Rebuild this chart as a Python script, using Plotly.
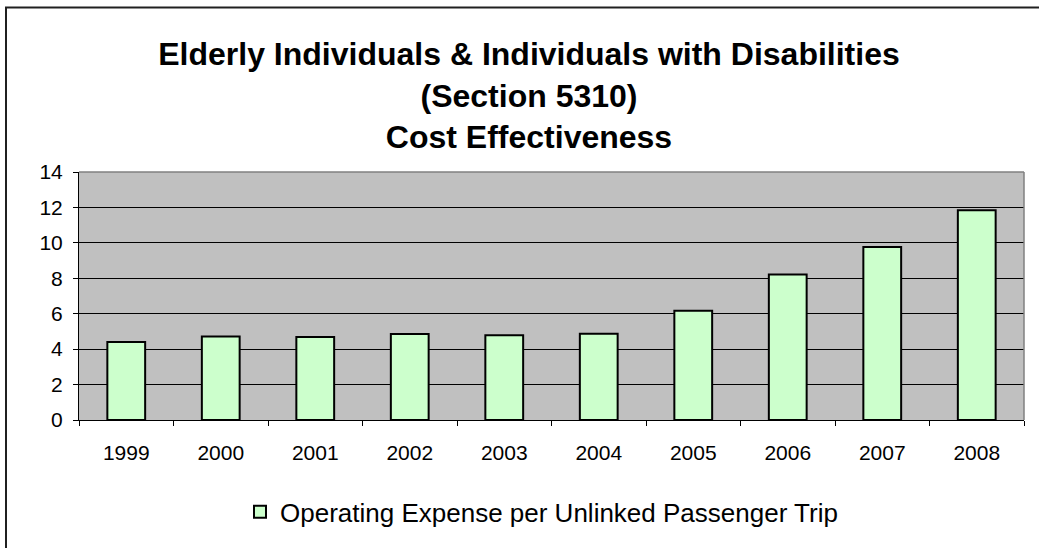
import plotly.graph_objects as go

years = ["1999", "2000", "2001", "2002", "2003", "2004", "2005", "2006", "2007", "2008"]
cost = [4.41, 4.72, 4.68, 4.85, 4.78, 4.87, 6.17, 8.22, 9.76, 11.84]
series_name = "Operating Expense per Unlinked Passenger Trip"
title_text = "Elderly Individuals & Individuals with Disabilities<br>(Section 5310)<br>Cost Effectiveness"

W, H = 1039, 548
L, R, T, B = 79, 15, 172, 125
pw, ph = W - L - R, H - T - B
FONT = "Arial, Liberation Sans, sans-serif"

fig = go.Figure()
fig.add_trace(go.Bar(
    x=years, y=cost, name=series_name,
    marker=dict(color="#CCFFCC", line=dict(color="black", width=2)),
    showlegend=True,
))

fig.update_layout(
    width=W, height=H,
    margin=dict(l=L, r=R, t=T, b=B),
    paper_bgcolor="white",
    plot_bgcolor="#C0C0C0",
    bargap=0.6,
    font=dict(family=FONT, size=21, color="black"),
    title=dict(text="<b>" + title_text + "</b>", xref="container", yref="container",
               x=529 / W, xanchor="center", y=1 - 65 / H, yanchor="middle",
               font=dict(size=32, family=FONT, color="black")),
    showlegend=True,
    legend=dict(orientation="h", x=(240 - L) / pw, xanchor="left",
                y=(H - B - 516) / ph, yanchor="middle",
                font=dict(size=26, family=FONT), bgcolor="rgba(0,0,0,0)"),
    xaxis=dict(showline=True, linecolor="black", linewidth=1,
               ticks="outside", tickson="boundaries", ticklen=5, tickcolor="black",
               tickfont=dict(size=21), showgrid=False, ticklabelstandoff=14),
    yaxis=dict(range=[0, 14], dtick=2, showline=True, linecolor="black", linewidth=1,
               ticks="outside", ticklen=5, tickcolor="black",
               showgrid=True, gridcolor="black", gridwidth=1,
               tickfont=dict(size=21), zeroline=False, ticklabelstandoff=6),
)

# plot area border (top and right in grey)
fig.add_shape(type="line", xref="paper", yref="paper", x0=0, x1=1, y0=1, y1=1,
              line=dict(color="#808080", width=1.5), layer="above")
fig.add_shape(type="line", xref="paper", yref="paper", x0=1, x1=1, y0=0, y1=1,
              line=dict(color="#808080", width=1.5), layer="above")
# chart outer frame (left and top visible, right/bottom beyond the image)
fig.add_shape(type="rect", xref="paper", yref="paper",
              x0=-(L - 6) / pw, x1=1 + (R + 10) / pw,
              y0=-(B + 10) / ph, y1=1 + (T - 5.5) / ph,
              line=dict(color="#202020", width=2))

fig.write_html("out.html", config={"displayModeBar": False},
               post_script="document.body.style.margin='0';document.body.style.padding='0';")
